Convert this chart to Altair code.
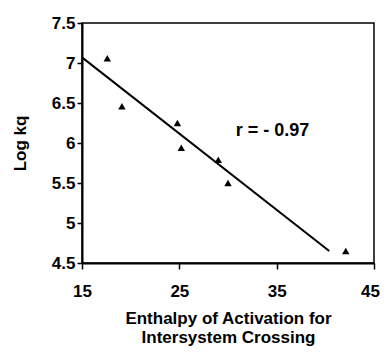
import altair as alt
import pandas as pd

enthalpy = [17.6, 19.1, 24.8, 25.2, 29.0, 30.0, 42.1]
log_kq = [7.06, 6.46, 6.25, 5.94, 5.79, 5.50, 4.65]

fit_x = [15.0, 40.4]
fit_y = [7.07, 4.65]

label_x = [30.8]
label_y = [6.15]
label_text = ["r = - 0.97"]

y_ticks = [4.5, 5, 5.5, 6, 6.5, 7, 7.5]
x_ticks = [15, 25, 35, 45]

FONT = "Liberation Sans"

pts = pd.DataFrame({"x": enthalpy, "y": log_kq})
fit = pd.DataFrame({"x": fit_x, "y": fit_y})
lab = pd.DataFrame({"x": label_x, "y": label_y, "t": label_text})

xscale = alt.Scale(domain=[15, 45], nice=False, zero=False)
yscale = alt.Scale(domain=[4.5, 7.5], nice=False, zero=False)

xaxis = alt.Axis(
    title=["Enthalpy of Activation for", "Intersystem Crossing"],
    values=x_ticks, format="d", grid=False, labelOverlap=False,
    labelFlush=False,
    labelOffset={"expr": "datum.value == 45 ? -4 : 0"},
    tickSize=6, labelPadding=14, titlePadding=11,
    titleLineHeight=19,
)
yaxis = alt.Axis(
    title="Log kq", values=y_ticks, format="~g", grid=False,
    labelOverlap=False, labelFlush=False,
    tickSize=5, labelPadding=2, titlePadding=22,
)

line = alt.Chart(fit).mark_line(color="black", strokeWidth=2).encode(
    x=alt.X("x:Q", scale=xscale, axis=xaxis),
    y=alt.Y("y:Q", scale=yscale, axis=yaxis),
)

points = alt.Chart(pts).mark_point(
    shape="triangle-up", filled=True, color="black", opacity=1, size=55
).encode(
    x=alt.X("x:Q", scale=xscale, axis=xaxis),
    y=alt.Y("y:Q", scale=yscale, axis=yaxis),
)

text = alt.Chart(lab).mark_text(
    align="left", baseline="middle", font=FONT, fontWeight="bold", fontSize=18, color="black"
).encode(
    x=alt.X("x:Q", scale=xscale, axis=xaxis),
    y=alt.Y("y:Q", scale=yscale, axis=yaxis),
    text="t:N",
)

chart = (line + points + text).properties(
    width=292, height=240,
    autosize=alt.AutoSizeParams(type="none"),
    padding={"left": 74, "top": 15, "right": 6, "bottom": 85},
).configure_view(
    stroke="black", strokeWidth=1.5
).configure_axis(
    domainColor="black", domainWidth=2, tickColor="black", tickWidth=1.5,
    labelOverlap=False,
    labelFont=FONT, labelFontWeight="bold", labelFontSize=17, labelColor="black",
    titleFont=FONT, titleFontWeight="bold", titleFontSize=17, titleColor="black",
)

chart.save("out.html", embed_options={"renderer": "svg", "actions": False})
